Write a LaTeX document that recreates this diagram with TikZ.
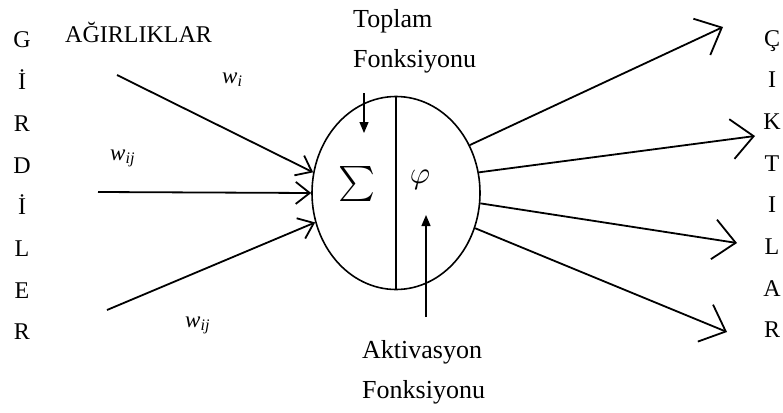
\documentclass[tikz,border=0pt]{standalone}
\usepackage{fontspec}
\setmainfont{Liberation Serif}
\usetikzlibrary{shapes.geometric,arrows.meta}

\begin{document}
\begin{tikzpicture}[x=1pt, y=-1pt,
        letter/.style={anchor=base, inner sep=0pt, font=\fontsize{24}{24}\selectfont},
        fnlabel/.style={anchor=base west, inner sep=0pt, font=\fontsize{26}{26}\selectfont},
        weight/.style={anchor=base west, inner sep=0pt, font=\fontsize{23}{23}\selectfont\itshape},
        neuron/.style={draw, ellipse, line width=1.6pt, minimum width=168pt, minimum height=193pt, inner sep=0pt},
        inarr/.style={-{Straight Barb[length=14pt, width=22pt]}, line width=1.8pt},
        outarr/.style={-{Straight Barb[length=22pt, width=40pt]}, line width=1.8pt},
        fnarr/.style={-{Triangle[length=11pt, width=9pt]}, line width=1.3pt}
    ]
        \path[use as bounding box] (0,0) rectangle (783,412);

        % neuron
        \node[neuron] (n) at (396,193) {};
        \draw[line width=1.2pt] (n.north) -- (n.south);
        \node[inner sep=0pt] (sum) at (357,184) {\scalebox{3.5}{$\sum$}};
        \node[inner sep=0pt] (phi) at (420,180) {\scalebox{3.1}{$\varphi$}};

        % side letters
        \foreach \ch [count=\k from 0] in {G,İ,R,D,İ,L,E,R}
            \node[letter] (in\k) at (22,48+41.7*\k) {\ch};
        \foreach \ch [count=\k from 0] in {Ç,I,K,T,I,L,A,R}
            \node[letter] (out\k) at (772,46+41.7*\k) {\ch};

        \node[anchor=base west, inner sep=0pt, font=\fontsize{24}{24}\selectfont] (agr) at (65,43) {AĞIRLIKLAR};

        % inputs
        \coordinate (x1) at (117,75);
        \coordinate (x2) at (98,192);
        \coordinate (x3) at (107,310);
        \draw[inarr] (x1) -- (n.166);
        \draw[inarr] (x2) -- (n.180);
        \draw[inarr] (x3) -- (n.200);

        \node[weight] (w1) at (222,83) {w\textsubscript{i}};
        \node[weight] (w2) at (110,160) {w\textsubscript{ij}};
        \node[weight] (w3) at (185,327) {w\textsubscript{ij}};

        % outputs
        \coordinate (y1) at (723,27);
        \coordinate (y2) at (755,136);
        \coordinate (y3) at (737,243);
        \coordinate (y4) at (727,332);
        \draw[outarr] (n.33) -- (y1);
        \draw[outarr] (n.14) -- (y2);
        \draw[outarr] (n.-7) -- (y3);
        \draw[outarr] (n.-24) -- (y4);

        % function labels
        \node[fnlabel] (top1) at (353,28) {Toplam};
        \node[fnlabel] (top2) at (353,67) {Fonksiyonu};
        \node[fnlabel] (akt1) at (362,358) {Aktivasyon};
        \node[fnlabel] (akt2) at (362,398) {Fonksiyonu};

        \coordinate (s0) at (364,93);
        \coordinate (s1) at (364,133);
        \coordinate (a0) at (426,317);
        \coordinate (a1) at (426,215);
        \draw[fnarr] (s0) -- (s1);
        \draw[fnarr] (a0) -- (a1);
    \end{tikzpicture}
\end{document}
